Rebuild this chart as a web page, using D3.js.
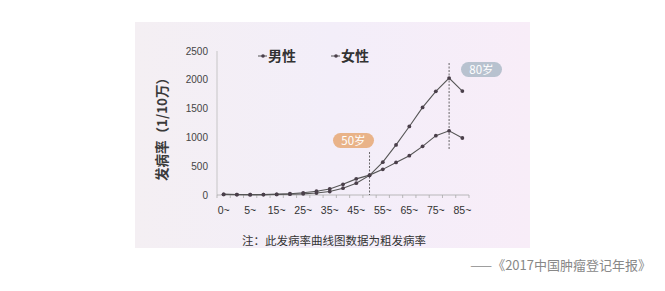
<!DOCTYPE html>
<html>
<head>
<meta charset="utf-8">
<script src="https://cdn.jsdelivr.net/npm/d3@7"></script>
<style>
  body { margin: 0; background: #fff; }
  svg { display: block; }
</style>
</head>
<body>
<svg width="665" height="291"></svg>
<script>
(function (d3) {
    'use strict';

    // age groups (start of each band)
    const ages = ['0', '1', '5', '10', '15', '20', '25', '30', '35', '40', '45',
                  '50', '55', '60', '65', '70', '75', '80', '85'];
    const tickLabels = ['0~', '5~', '15~', '25~', '35~', '45~', '55~', '65~', '75~', '85~'];
    const male =   [12, 8, 6, 7, 10, 15, 20, 35, 60, 118, 205, 340, 570, 870, 1190, 1520, 1800, 2030, 1805];
    const female = [10, 7, 6, 7, 12, 22, 38, 65, 105, 185, 280, 345, 445, 565, 682, 845, 1030, 1115, 990];
    const yTicks = [0, 500, 1000, 1500, 2000, 2500];
    const marks = [{age: '50', label: '50岁'}, {age: '80', label: '80岁'}];

    const svg = d3.select('svg');
    const font = '"Noto Sans CJK SC", "Noto Sans", sans-serif';

    // panel background
    const defs = svg.append('defs');
    const grad = defs.append('linearGradient').attr('id', 'bg');
    grad.append('stop').attr('offset', '0%').attr('stop-color', '#f4eff3');
    grad.append('stop').attr('offset', '50%').attr('stop-color', '#f3eef9');
    grad.append('stop').attr('offset', '100%').attr('stop-color', '#f8edf8');
    svg.append('rect')
        .attr('x', 135).attr('y', 22)
        .attr('width', 395).attr('height', 226)
        .attr('fill', 'url(#bg)');

    const x = d3.scaleBand().domain(ages).range([217, 469]);
    const y = d3.scaleLinear().domain([0, 2500]).range([195, 51]);
    const cx = a => x(a) + x.bandwidth() / 2;

    // y axis
    svg.append('line')
        .attr('x1', 217).attr('x2', 217)
        .attr('y1', y(2500)).attr('y2', y(0))
        .attr('stroke', '#bbb').attr('stroke-width', 0.8);
    svg.append('g').selectAll('text').data(yTicks).join('text')
        .attr('x', 208).attr('y', d => y(d) + 3.5)
        .attr('text-anchor', 'end')
        .attr('font-family', 'Liberation Sans, Arial, sans-serif')
        .attr('font-size', 10).attr('fill', '#444')
        .text(d => d);

    // x axis
    svg.append('line')
        .attr('x1', 217).attr('x2', 469)
        .attr('y1', y(0)).attr('y2', y(0))
        .attr('stroke', '#aaa').attr('stroke-width', 0.8);
    svg.append('g').selectAll('line').data(ages.concat(['end'])).join('line')
        .attr('x1', (d, i) => 217 + i * x.bandwidth())
        .attr('x2', (d, i) => 217 + i * x.bandwidth())
        .attr('y1', y(0)).attr('y2', y(0) + 3)
        .attr('stroke', '#aaa').attr('stroke-width', 0.8);
    const labelAges = ['0', '5', '15', '25', '35', '45', '55', '65', '75', '85'];
    svg.append('g').selectAll('text').data(tickLabels).join('text')
        .attr('x', (d, i) => cx(labelAges[i]))
        .attr('y', 214)
        .attr('text-anchor', 'middle')
        .attr('font-family', 'Liberation Sans, Arial, sans-serif')
        .attr('font-size', 10.5).attr('fill', '#333')
        .text(d => d);

    // y axis title
    svg.append('text')
        .attr('transform', 'translate(167,126) rotate(-90)')
        .attr('text-anchor', 'middle')
        .attr('font-family', font)
        .attr('font-size', 13.5).attr('font-weight', 'bold').attr('fill', '#3a3a3a')
        .text('发病率（1/10万）');

    // dashed markers
    svg.append('line')
        .attr('x1', cx('50')).attr('x2', cx('50'))
        .attr('y1', 152).attr('y2', y(0))
        .attr('stroke', '#444').attr('stroke-width', 0.8)
        .attr('stroke-dasharray', '2,1.5');
    svg.append('line')
        .attr('x1', cx('80')).attr('x2', cx('80'))
        .attr('y1', 63).attr('y2', 150)
        .attr('stroke', '#444').attr('stroke-width', 0.8)
        .attr('stroke-dasharray', '2,1.5');

    // pills
    const pillColor = {'50': '#e9b389', '80': '#b8c2cf'};
    const pillPos = {'50': [333, 133], '80': [461, 62]};
    marks.forEach(m => {
        const p = pillPos[m.age];
        svg.append('rect')
            .attr('x', p[0]).attr('y', p[1])
            .attr('width', 41).attr('height', 15).attr('rx', 7.5)
            .attr('fill', pillColor[m.age]);
        svg.append('text')
            .attr('x', p[0] + 20.5).attr('y', p[1] + 11.5)
            .attr('text-anchor', 'middle')
            .attr('font-family', font)
            .attr('font-size', 11.5).attr('fill', '#fff')
            .text(m.label);
    });

    // lines
    const line = d3.line().x((d, i) => cx(ages[i])).y(d => y(d));
    [male, female].forEach(s => {
        svg.append('path')
            .attr('d', line(s))
            .attr('fill', 'none')
            .attr('stroke', '#555').attr('stroke-width', 1.1);
        svg.append('g').selectAll('circle').data(s).join('circle')
            .attr('cx', (d, i) => cx(ages[i]))
            .attr('cy', d => y(d))
            .attr('r', 1.9)
            .attr('fill', '#4a3f4a');
    });

    // legend
    const legend = [{name: '男性', x: 258}, {name: '女性', x: 331}];
    legend.forEach(l => {
        svg.append('line')
            .attr('x1', l.x).attr('x2', l.x + 9)
            .attr('y1', 56).attr('y2', 56)
            .attr('stroke', '#555').attr('stroke-width', 1);
        svg.append('circle')
            .attr('cx', l.x + 5).attr('cy', 56).attr('r', 1.8)
            .attr('fill', '#4a3f4a');
        svg.append('text')
            .attr('x', l.x + 10).attr('y', 61)
            .attr('font-family', font)
            .attr('font-size', 14).attr('font-weight', 'bold').attr('fill', '#333')
            .text(l.name);
    });

    // note
    svg.append('text')
        .attr('x', 242).attr('y', 245)
        .attr('font-family', font)
        .attr('font-size', 11.5).attr('fill', '#333')
        .text('注：此发病率曲线图数据为粗发病率');

    // source
    svg.append('text')
        .attr('x', 651).attr('y', 270)
        .attr('text-anchor', 'end')
        .attr('font-family', font)
        .attr('font-size', 13).attr('fill', '#888')
        .text('——《2017中国肿瘤登记年报》');
}(d3));
</script>
</body>
</html>
